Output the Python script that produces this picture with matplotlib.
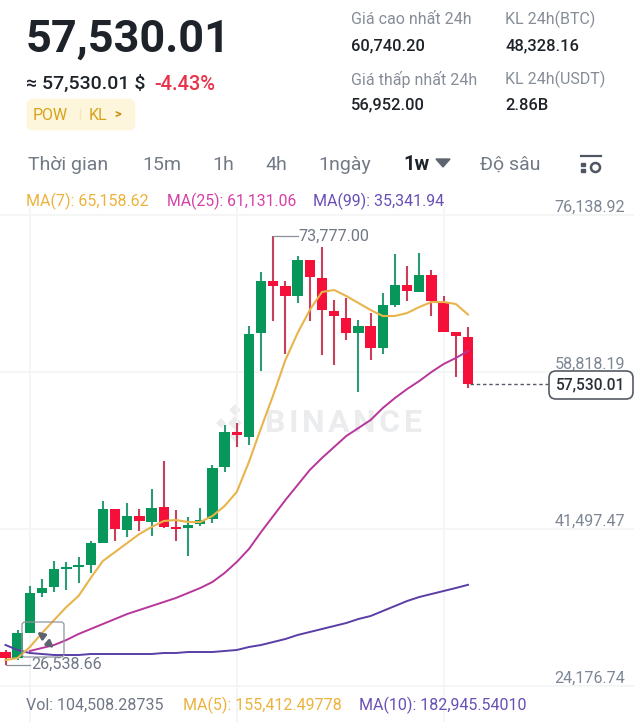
import numpy as np
import matplotlib
matplotlib.use('Agg')
import matplotlib.pyplot as plt
from matplotlib.patches import FancyBboxPatch, Rectangle, Polygon
from matplotlib.lines import Line2D

plt.rcParams['font.family'] = ['Roboto', 'DejaVu Sans']

# Nen tuan BTC/USDT, doc tu hinh
opens = [27929, 27267, 30025, 34438, 35100, 37086, 37307, 37527, 39954, 43705,
         41388, 42933, 42271, 43926, 41719, 41609, 42050, 42602, 48339, 52200,
         51648, 63121, 68858, 68306, 67203, 71175, 69189, 65548, 64776, 63121,
         63894, 61467, 66210, 68417, 67645, 69520, 66541, 63232, 62680]
closes = [27267, 30025, 34438, 34990, 37086, 37307, 37527, 39954, 43705, 41499,
          42933, 42381, 43815, 41719, 41499, 41940, 42492, 48228, 52200, 51869,
          63011, 68858, 68306, 67203, 71175, 69299, 65659, 64997, 63121, 63894,
          61467, 66210, 68417, 67755, 69520, 66652, 63232, 62790, 57530.01]
highs = [28150, 30356, 35210, 35983, 37968, 37858, 38410, 40175, 44588, 43705,
         44367, 43705, 45912, 49000, 43595, 42823, 43815, 48559, 52972, 53200,
         63894, 69851, 73777.00, 68858, 71616, 71175, 72609, 66762, 66983, 64556,
         65328, 67534, 71837, 70513, 71947, 70072, 67203, 63232, 63783]
lows = [26538.66, 27047, 30025, 33997, 34549, 34769, 35541, 36645, 39954, 40175,
        40616, 41278, 40726, 41609, 40175, 38520, 41830, 42161, 47786, 50545,
        50800, 58929, 64445, 60805, 66430, 64445, 60694, 59591, 62349, 56613,
        60143, 60805, 65990, 66652, 67645, 64997, 63232, 58267, 57054]

ma7 = [27047, 27267, 28481, 30025, 31460, 32894, 34107, 36093, 37968, 38961,
       39954, 40947, 41719, 42381, 42492, 42271, 42271, 42933, 44036, 45581,
       48890, 52641, 56282, 60143, 63121, 65659, 67645, 67865, 67203, 66430,
       65659, 64997, 64997, 65328, 65990, 66541, 66541, 66321, 65158.62]
ma25 = [np.nan, np.nan, 28040, 28371, 28702, 29253, 29915, 30467, 31018, 31570,
        32122, 32563, 33004, 33445, 33887, 34438, 34990, 35652, 36645, 37858,
        39292, 41168, 42933, 44698, 46353, 48008, 49331, 50545, 51758, 52641,
        53524, 54847, 55951, 56944, 57826, 58819, 59702, 60363, 61131.06]
ma99 = [28702, 28150, 27819, 27709, 27598, 27598, 27598, 27709, 27709, 27709,
        27709, 27709, 27709, 27819, 27819, 27929, 27929, 27929, 28040, 28150,
        28481, 28702, 29033, 29364, 29805, 30136, 30467, 30798, 31129, 31570,
        31901, 32452, 33004, 33556, 33997, 34328, 34659, 34990, 35341.94]

price_ticks = [24176.74, 41497.47, 58818.19, 76138.92]
time_tabs = ['Thời gian', '15m', '1h', '4h', '1ngày', '1w', 'Độ sâu']

GREEN = '#07975a'
RED = '#f5103a'
GREEN_WICK = '#2c9a74'
RED_WICK = '#c83f5c'
ORANGE = '#e8b44c'
PINK = '#b8359a'
PURPLE = '#5a3ea6'
GREY = '#868d98'
DARK = '#1e2329'
W, H = 634, 722

fig = plt.figure(figsize=(W / 100, H / 100), dpi=100, facecolor='white')

# Watermark nam duoi cac nen
bg = fig.add_axes([0, 0, 1, 1])
bg.set_xlim(0, W)
bg.set_ylim(H, 0)
bg.axis('off')
for cx, cy, r in [(235, 423, 6), (221, 423, 4), (249, 423, 4), (235, 410, 5), (235, 436, 5)]:
    bg.add_patch(Polygon([(cx - r, cy), (cx, cy - r), (cx + r, cy), (cx, cy + r)],
                         color='#ebecee'))
renderer = fig.canvas.get_renderer()
wm_x = 265
for ch in 'BINANCE':
    t = bg.text(wm_x, 423, ch, fontsize=23, color='#ebecee', fontweight='bold',
                ha='left', va='center')
    wm_x += t.get_window_extent(renderer).width + 3.5

# Khung gia: 207..722 px
ax = fig.add_axes([0, 0, 1, (722 - 207) / H])
ax.patch.set_alpha(0)
ax.set_xlim(-0.452, 51.64)
ax.set_ylim(20207, 77022)
for s in ax.spines.values():
    s.set_visible(False)
ax.set_xticks([2, 19, 36])
ax.set_xticklabels([])
ax.tick_params(axis='x', length=0)
ax.yaxis.tick_right()
ax.set_yticks(price_ticks)
ax.set_yticklabels([f'{v:,.2f}' for v in price_ticks], fontsize=11.6, color='#7d8694')
ax.tick_params(axis='y', length=0, pad=-6.5)
for lab in ax.get_yticklabels():
    lab.set_ha('right')
    lab.set_va('bottom')
ax.grid(True, color='#f3f4f5', lw=1.3)
ax.set_axisbelow(True)

idx = np.arange(len(opens))
o = np.array(opens)
c = np.array(closes)
up = c >= o
ax.vlines(idx[up], np.array(lows)[up], np.array(highs)[up], color=GREEN_WICK, lw=1.5, zorder=3)
ax.vlines(idx[~up], np.array(lows)[~up], np.array(highs)[~up], color=RED_WICK, lw=1.5, zorder=3)
ax.bar(idx, np.abs(c - o), bottom=np.minimum(o, c), width=0.85,
       color=[GREEN if u else RED for u in up], zorder=4)

ax.plot(idx, ma99, color=PURPLE, lw=1.4, zorder=5)
ax.plot(idx, ma25, color=PINK, lw=1.4, zorder=5)
ax.plot(idx, ma7, color=ORANGE, lw=1.5, zorder=5)

# Nhan cao nhat / thap nhat
ax.plot([22, 24.05], [highs[22], highs[22]], color='#8a909a', lw=0.9, zorder=6)
ax.text(24.1, highs[22], '73,777.00', fontsize=11.6, color='#6f7785', va='center', zorder=6)
ax.plot([0, 2.05], [lows[0], lows[0]], color='#8a909a', lw=0.9, zorder=6)
ax.text(2.1, lows[0], '26,538.66', fontsize=11.6, color='#6f7785', va='center', zorder=6)

# Gia hien tai
ax.plot([38.2, 44.6], [closes[-1], closes[-1]], color='#555b66', lw=1, ls=(0, (2.5, 2)), zorder=6)

# Lop phu theo pixel
ov = fig.add_axes([0, 0, 1, 1])
ov.set_xlim(0, W)
ov.set_ylim(H, 0)
ov.axis('off')
ov.patch.set_alpha(0)


def txt(x, y, s, size, color=DARK, weight='normal', ha='left', zorder=10):
    ov.text(x, y, s, fontsize=size * 0.72, color=color, fontweight=weight,
            ha=ha, va='center', zorder=zorder)


# Dau trang
txt(26, 40, '57,530.01', 45, DARK, 'bold')
txt(26, 84, '≈ 57,530.01 $', 19.5, DARK, 'medium')
txt(154, 84, '-4.43%', 20, '#e8334a', 'medium')
ov.add_patch(FancyBboxPatch((28, 100), 106, 29, boxstyle='round,pad=0,rounding_size=5',
                            fc='#fdf6dd', ec='#fdf6dd', lw=2))
txt(33, 115, 'POW', 16, '#d7a21a')
txt(89, 115, 'KL', 16, '#d7a21a')
txt(114, 114, '>', 13, '#c98e10', 'bold')
ov.add_line(Line2D([80, 80], [109, 119], color='#f3e6bd', lw=1))

txt(351, 19, 'Giá cao nhất 24h', 16, GREY)
txt(505, 19, 'KL 24h(BTC)', 16, GREY)
txt(351, 46, '60,740.20', 16.5, DARK, 'medium')
txt(505, 46, '48,328.16', 16.5, DARK, 'medium')
txt(351, 79, 'Giá thấp nhất 24h', 16, GREY)
txt(505, 79, 'KL 24h(USDT)', 16, GREY)
txt(351, 105, '56,952.00', 16.5, DARK, 'medium')
txt(505, 105, '2.86B', 16.5, DARK, 'medium')

# Thanh khung thoi gian
tab_x = [28, 142, 212, 265, 318, 403, 480]
for x, s in zip(tab_x, time_tabs):
    if s == '1w':
        txt(x, 165, s, 20, DARK, 'bold')
    else:
        txt(x, 165, s, 19.5, '#727a85')
ov.add_patch(Polygon([(436, 159), (450, 159), (443, 167)], color='#5d6470'))
ov.add_line(Line2D([581, 601], [156, 156], color='#4f5661', lw=1.6))
ov.add_patch(Rectangle((581, 163), 4, 2.5, color='#4f5661'))
ov.add_patch(Rectangle((581, 169), 4, 2.5, color='#4f5661'))
ov.plot([595], [167], 'o', ms=6.5, mfc='white', mec='#4f5661', mew=1.8)

# Chu thich MA
txt(26, 201, 'MA(7): 65,158.62', 16, '#edb23d')
txt(167, 201, 'MA(25): 61,131.06', 15.8, '#d640a8')
txt(313, 201, 'MA(99): 35,341.94', 16, '#6a4fb5')

txt(26, 705, 'Vol: 104,508.28735', 16, '#6f7785')
txt(183, 705, 'MA(5): 155,412.49778', 16, '#edb23d')
txt(359, 705, 'MA(10): 182,945.54010', 16, '#6a4fb5')

# O gia cuoi
ov.add_patch(FancyBboxPatch((549, 371), 84, 28, boxstyle='round,pad=0,rounding_size=7',
                            fc='white', ec='#555b66', lw=1.2, zorder=8))
txt(591, 385, '57,530.01', 15.5, '#2b3038', 'medium', ha='center')

# Nut phat lai nho o goc trai
ov.add_patch(FancyBboxPatch((22, 622), 42, 35, boxstyle='round,pad=0,rounding_size=3',
                            fc='none', ec='#8f95a0', lw=0.9, zorder=8))
ov.annotate('', xy=(35, 630), xytext=(44, 637),
            arrowprops=dict(arrowstyle='-|>', color='#5d6470', lw=2), zorder=9)
ov.annotate('', xy=(56, 650), xytext=(47, 642),
            arrowprops=dict(arrowstyle='-|>', color='#5d6470', lw=2), zorder=9)

fig.savefig('out.png', dpi=100)
